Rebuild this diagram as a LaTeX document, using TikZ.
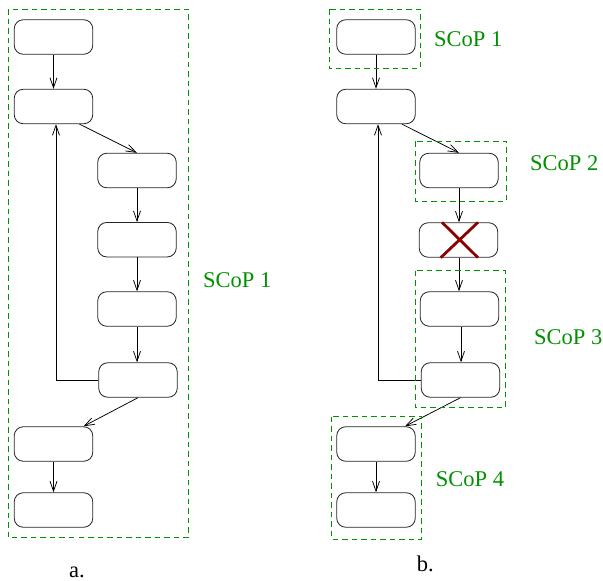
\documentclass[tikz,border=0pt]{standalone}
\usepackage{fontspec}
\setmainfont{Liberation Serif}
\usetikzlibrary{arrows.meta}
\definecolor{scopgreen}{RGB}{0,145,0}
\definecolor{xred}{RGB}{140,0,0}
\tikzset{
  blk/.style={draw=black!85, rounded corners=9pt, minimum width=78.5pt, minimum height=34.5pt, inner sep=0pt, line width=0.85pt},
  edge/.style={draw=black, line width=0.75pt, -{Straight Barb[length=10pt,width=7pt,line width=0.75pt]}},
  scopbox/.style={draw=scopgreen, line width=0.8pt, dash pattern=on 5.5pt off 4pt},
  scoplbl/.style={text=scopgreen, anchor=base west, inner sep=0pt, font=\fontsize{22.5}{27}\selectfont},
  panellbl/.style={anchor=base west, inner sep=0pt, font=\fontsize{22.5}{27}\selectfont},
  xmark/.style={draw=xred, line width=2.8pt}
}
\begin{document}
\begin{tikzpicture}[x=1pt,y=-1pt]
\useasboundingbox (0,0) rectangle (603,581);
% ---- panel a ----
\node[blk] (a1) at (53.5,37) {};
\node[blk] (a2) at (53.5,106.5) {};
\node[blk] (a3) at (137,170.5) {};
\node[blk] (a4) at (137,239.7) {};
\node[blk] (a5) at (137,309) {};
\node[blk] (a6) at (138,380) {};
\node[blk] (a7) at (53.5,444) {};
\node[blk] (a8) at (53.5,510) {};
\draw[edge] (a1.south) -- (a2.north);
\draw[edge] ([xshift=26pt]a2.south) -- (a3.north);
\draw[edge] (a3.south) -- (a4.north);
\draw[edge] (a4.south) -- (a5.north);
\draw[edge] (a5.south) -- (a5.south |- a6.north);
\draw[edge] (a6.west) -| ([xshift=2.5pt]a2.south);
\draw[edge] (a6.south) -- ([xshift=30pt]a7.north);
\draw[edge] (a7.south) -- (a8.north);
\draw[scopbox] (8,9) rectangle (188,537);
\node[scoplbl] (la) at (203,287.7) {SCoP 1};
\node[panellbl] (capa) at (69,577) {a.};
% ---- panel b ----
\node[blk] (b1) at (376,37) {};
\node[blk] (b2) at (376,106.5) {};
\node[blk] (b3) at (459,170.5) {};
\node[blk] (b4) at (458.5,240) {};
\node[blk] (b5) at (459.5,309) {};
\node[blk] (b6) at (460.5,380) {};
\node[blk] (b7) at (376,444) {};
\node[blk] (b8) at (376,510) {};
\draw[edge] (b1.south) -- (b2.north);
\draw[edge] ([xshift=26pt]b2.south) -- (b3.north);
\draw[edge] (b3.south) -- (b3.south |- b4.north);
\draw[edge] (b3.south |- b4.south) -- (b3.south |- b5.north);
\draw[edge] ([xshift=1.5pt]b5.south) -- ([xshift=1.5pt]b5.south |- b6.north);
\draw[edge] (b6.west) -| ([xshift=2pt]b2.south);
\draw[edge] (b6.south) -- ([xshift=29pt]b7.north);
\draw[edge] (b7.south) -- (b8.north);
\draw[xmark] ([xshift=-16.5pt]b4.north) -- ([xshift=19.5pt]b4.south);
\draw[xmark] ([xshift=-17.8pt]b4.south) -- ([xshift=19.5pt]b4.north);
\draw[scopbox] (329,9) rectangle (420,68.7);
\draw[scopbox] (415,141) rectangle (506,201);
\draw[scopbox] (415,270.7) rectangle (505,407.7);
\draw[scopbox] (331.7,416.7) rectangle (421.7,539.3);
\node[scoplbl] (l1) at (434,46) {SCoP 1};
\node[scoplbl] (l2) at (530,170.7) {SCoP 2};
\node[scoplbl] (l3) at (534,344) {SCoP 3};
\node[scoplbl] (l4) at (435.7,486) {SCoP 4};
\node[panellbl] (capb) at (416.7,571.5) {b.};
\end{tikzpicture}
\end{document}
